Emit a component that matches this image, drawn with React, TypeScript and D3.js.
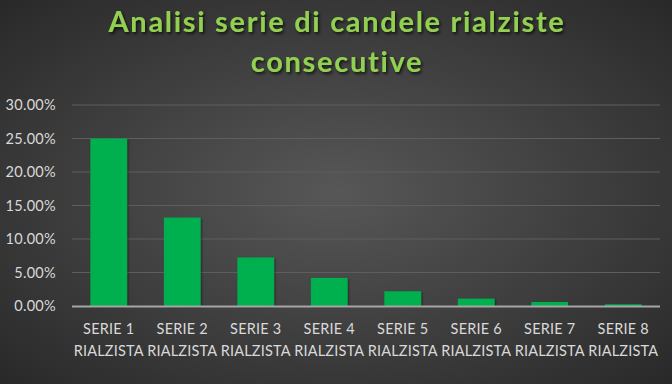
import React from "react";
import * as d3 from "d3";

const categories = ["SERIE 1", "SERIE 2", "SERIE 3", "SERIE 4", "SERIE 5", "SERIE 6", "SERIE 7", "SERIE 8"];
const categorySub = ["RIALZISTA", "RIALZISTA", "RIALZISTA", "RIALZISTA", "RIALZISTA", "RIALZISTA", "RIALZISTA", "RIALZISTA"];
const values = [0.25, 0.132, 0.0725, 0.042, 0.022, 0.011, 0.006, 0.0025];
const yTicks = [0, 0.05, 0.1, 0.15, 0.2, 0.25, 0.3];
const titleLines = ["Analisi serie di candele rialziste", "consecutive"];

const W = 672;
const H = 384;

export default function App() {
  const x = d3.scaleBand<string>().domain(categories).range([72, 660]).paddingInner(0.5).paddingOuter(0.25);
  const y = d3.scaleLinear().domain([0, 0.3]).range([306, 105]);
  const fmt = d3.format(".2%");
  const font = "Lato, 'Open Sans', sans-serif";
  return (
    <svg width={W} height={H} style={{ position: "absolute", left: 0, top: 0 }}>
      <defs>
        <radialGradient id="bg" cx="50%" cy="50%" r="75%">
          <stop offset="0%" stopColor="#575757" />
          <stop offset="100%" stopColor="#262626" />
        </radialGradient>
        <filter id="sh" x="-10%" y="-30%" width="120%" height="160%">
          <feDropShadow dx="1.5" dy="2" stdDeviation="1.5" floodColor="#000" floodOpacity="0.7" />
        </filter>
        <filter id="bsh" x="-20%" y="-10%" width="140%" height="120%">
          <feDropShadow dx="1" dy="1" stdDeviation="1.2" floodColor="#000" floodOpacity="0.5" />
        </filter>
      </defs>
      <rect x={0} y={0} width={W} height={H} fill="url(#bg)" />
      <g fontFamily={font} fontWeight="bold" fontSize={29} fill="#92d050" textAnchor="middle" filter="url(#sh)" letterSpacing={1.7} style={{ fontVariantLigatures: "none" }}>
        {titleLines.map((t, i) => (
          <text key={i} x={337} y={32 + i * 40}>{t}</text>
        ))}
      </g>
      {yTicks.map((t) => (
        <g key={t}>
          {t > 0 && <line x1={72} x2={660} y1={y(t)} y2={y(t)} stroke="#5e5e5e" strokeWidth={1} />}
          <text x={56} y={y(t)} dy="0.35em" textAnchor="end" fontFamily={font} fontSize={14.5} fill="#d9d9d9" letterSpacing={0.3}>{fmt(t)}</text>
        </g>
      ))}
      {categories.map((c, i) => (
        <rect key={c} x={x(c)} y={y(values[i])} width={x.bandwidth()} height={y(0) - y(values[i])} fill="#00b050" filter="url(#bsh)" />
      ))}
      <line x1={72} x2={660} y1={y(0) + 0.5} y2={y(0) + 0.5} stroke="#a6a6a6" strokeWidth={2} />
      {categories.map((c, i) => (
        <g key={c} fontFamily={font} fontSize={14.5} fill="#d9d9d9" textAnchor="middle" letterSpacing={0.2}>
          <text x={(x(c) as number) + x.bandwidth() / 2} y={334}>{c}</text>
          <text x={(x(c) as number) + x.bandwidth() / 2} y={356}>{categorySub[i]}</text>
        </g>
      ))}
    </svg>
  );
}
